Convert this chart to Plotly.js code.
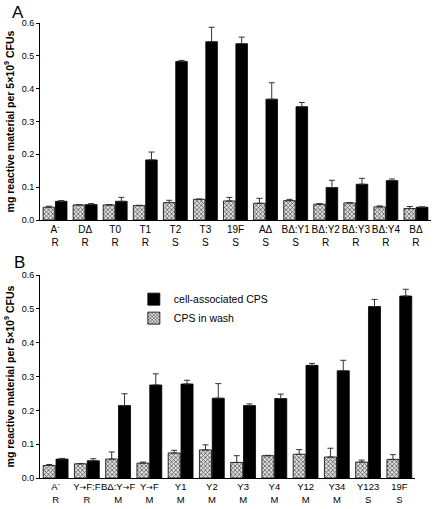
<!DOCTYPE html>
<html>
<head>
<meta charset="utf-8">
<script src="https://cdn.plot.ly/plotly-3.0.1.min.js"></script>
<style>body{margin:0;padding:0;background:#fff;}#chart{width:436px;height:509px;}</style>
</head>
<body>
<div id="chart"></div>
<script>
// Panel A data
var catsA = ["A<sup>-</sup>", "DΔ", "T0", "T1", "T2", "T3", "19F", "AΔ", "BΔ:Y1", "BΔ:Y2", "BΔ:Y3", "BΔ:Y4", "BΔ"];
var phenA = ["R", "R", "R", "R", "S", "S", "S", "S", "S", "R", "R", "R", "R"];
var washA = [0.039, 0.046, 0.046, 0.044, 0.053, 0.063, 0.058, 0.051, 0.059, 0.048, 0.052, 0.040, 0.035];
var washErrA = [0.003, 0.001, 0.001, 0.001, 0.007, 0.001, 0.011, 0.015, 0.004, 0.002, 0.001, 0.003, 0.006];
var cellA = [0.057, 0.047, 0.057, 0.183, 0.483, 0.543, 0.537, 0.368, 0.345, 0.099, 0.109, 0.120, 0.039];
var cellErrA = [0.002, 0.003, 0.012, 0.024, 0.003, 0.044, 0.020, 0.050, 0.013, 0.022, 0.018, 0.005, 0.001];

// Panel B data
var catsB = ["A<sup>-</sup>", "Y→F:F", "BΔ:Y→F", "Y→F", "Y1", "Y2", "Y3", "Y4", "Y12", "Y34", "Y123", "19F"];
var phenB = ["R", "R", "M", "M", "M", "M", "M", "M", "M", "M", "S", "S"];
var washB = [0.037, 0.042, 0.056, 0.044, 0.074, 0.083, 0.046, 0.066, 0.070, 0.062, 0.047, 0.055];
var washErrB = [0.003, 0.001, 0.021, 0.003, 0.008, 0.015, 0.020, 0.001, 0.014, 0.026, 0.006, 0.014];
var cellB = [0.056, 0.051, 0.214, 0.275, 0.278, 0.236, 0.214, 0.235, 0.333, 0.317, 0.507, 0.538];
var cellErrB = [0.002, 0.006, 0.035, 0.033, 0.011, 0.043, 0.005, 0.013, 0.006, 0.031, 0.021, 0.020];

var yTicks = [0, 0.1, 0.2, 0.3, 0.4, 0.5, 0.6];
var legendNames = ["cell-associated CPS", "CPS in wash"];

function labels(c, p) {
  return c.map(function (v, i) {
    return v.replace(/→/g, '<span style="font-family:DejaVu Sans;font-size:8px">→</span>') + "<br>" + p[i];
  });
}
var xA = labels(catsA, phenA);
var xB = labels(catsB, phenB);

function zeros(a) { return a.map(function () { return 0; }); }

var washMarker = {
  color: "#cccccc",
  line: {color: "#000", width: 0.8},
  pattern: {shape: "x", fgcolor: "#444", bgcolor: "#e0e0e0", size: 3, solidity: 0.4}
};
var cellMarker = {color: "#000", line: {color: "#000", width: 0.8}};
function err(a) { return {type: "data", symmetric: false, array: a, arrayminus: zeros(a), color: "#333", thickness: 1, width: 3}; }

var traces = [
  {type: "bar", x: xA, y: washA, name: legendNames[1], xaxis: "x", yaxis: "y", marker: washMarker, error_y: err(washErrA), showlegend: false},
  {type: "bar", x: xA, y: cellA, name: legendNames[0], xaxis: "x", yaxis: "y", marker: cellMarker, error_y: err(cellErrA), showlegend: false},
  {type: "bar", x: xB, y: washB, name: legendNames[1], xaxis: "x2", yaxis: "y2", marker: washMarker, error_y: err(washErrB), showlegend: true},
  {type: "bar", x: xB, y: cellB, name: legendNames[0], xaxis: "x2", yaxis: "y2", marker: cellMarker, error_y: err(cellErrB), showlegend: true}
];

var font = {family: "Liberation Sans, Arial, sans-serif", color: "#000"};
function xax(dom, anchor, fs) {
  return {domain: dom, anchor: anchor, showline: true, linecolor: "#000", linewidth: 1, ticks: "", showgrid: false, zeroline: false,
    tickfont: {family: font.family, size: fs, color: "#000"}, fixedrange: true, tickangle: 0};
}
function yax(dom, anchor) {
  return {domain: dom, anchor: anchor, range: [0, 0.6], tickvals: yTicks, tickformat: ".1f", showline: true, linecolor: "#000", linewidth: 1,
    ticks: "outside", ticklen: 3, tickcolor: "#000", showgrid: false, zeroline: false,
    tickfont: {family: font.family, size: 9, color: "#000"},
    title: {text: "mg reactive material per 5×10<sup>9</sup> CFUs", font: {family: font.family, size: 10.5, color: "#000", weight: "bold"}, standoff: 5}};
}

var layout = {
  width: 436, height: 509,
  margin: {l: 40, r: 5, t: 23, b: 31},
  paper_bgcolor: "#fff", plot_bgcolor: "#fff",
  font: font,
  barmode: "group", bargap: 0.18, bargroupgap: 0.06,
  xaxis: xax([0, 1], "y", 10),
  yaxis: yax([0.567, 1], "x"),
  xaxis2: xax([0, 0.959], "y2", 9.5),
  yaxis2: yax([0, 0.446], "x2"),
  legend: {x: 0.24, y: 0.425, xanchor: "left", yanchor: "top", traceorder: "reversed", bgcolor: "rgba(0,0,0,0)",
    font: {family: font.family, size: 10.5, color: "#000"}, itemwidth: 30, tracegroupgap: 0},
  annotations: [
    {text: "A", xref: "paper", yref: "paper", x: -0.056, y: 1.024, xanchor: "center", yanchor: "middle", showarrow: false, font: {family: font.family, size: 17, color: "#000"}},
    {text: "B", xref: "paper", yref: "paper", x: -0.052, y: 0.474, xanchor: "center", yanchor: "middle", showarrow: false, font: {family: font.family, size: 17, color: "#000"}}
  ]
};

Plotly.newPlot("chart", traces, layout, {displayModeBar: false, staticPlot: true});
</script>
</body>
</html>
